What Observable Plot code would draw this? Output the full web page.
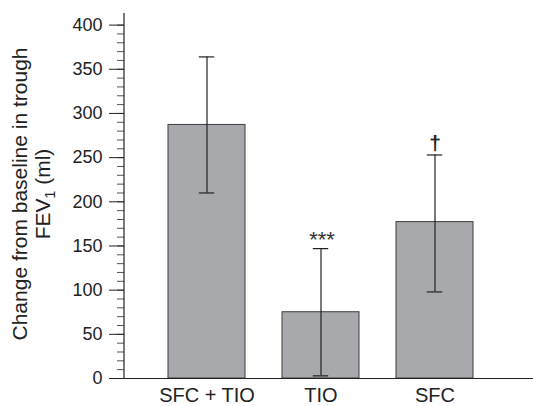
<!DOCTYPE html>
<html>
<head>
<meta charset="utf-8">
<script src="https://cdn.jsdelivr.net/npm/d3@7"></script>
<script src="https://cdn.jsdelivr.net/npm/@observablehq/plot@0.6"></script>
<style>
  body { margin: 0; background: #fff; }
  svg { font-family: "Liberation Sans", Arial, Helvetica, sans-serif; }
</style>
</head>
<body>
<div id="chart"></div>
<script>
const categories = ["SFC + TIO", "TIO", "SFC"];
const means = [287, 75, 177];
const errLow = [210, 3, 98];
const errHigh = [364, 147, 253];
const marks = ["", "***", "\u2020"];
const yTicks = [0, 50, 100, 150, 200, 250, 300, 350, 400];
const yMinorTicks = d3.range(0, 401, 10);

const data = categories.map((c, i) => ({cat: c, mean: means[i], lo: errLow[i], hi: errHigh[i], mark: marks[i]}));

const W = 533, H = 406, ML = 124, MT = 14, MB = 28;

const plot = Plot.plot({
  width: W,
  height: H,
  marginLeft: ML,
  marginRight: 0,
  marginTop: MT,
  marginBottom: MB,
  style: {fontFamily: '"Liberation Sans", Arial, Helvetica, sans-serif', background: "#fff", color: "#222"},
  x: {domain: categories, paddingInner: 0.325, paddingOuter: 0.441, align: 0.421, label: null},
  y: {domain: [0, 412], label: null},
  marks: [
    Plot.barY(data, {x: "cat", y: "mean", fill: "#a8a9ac", stroke: "#3c3c3c", strokeWidth: 1}),
    Plot.ruleX(data, {x: "cat", y1: "lo", y2: "hi", stroke: "#222", strokeWidth: 1.2}),
    Plot.tickY(data, {x: "cat", y: "lo", stroke: "#222", strokeWidth: 1.2, insetLeft: 30.8, insetRight: 30.8}),
    Plot.tickY(data, {x: "cat", y: "hi", stroke: "#222", strokeWidth: 1.2, insetLeft: 30.8, insetRight: 30.8}),
    Plot.text(data.filter(d => d.mark === "***"), {x: "cat", y: "hi", text: "mark", fontSize: 22, dy: -9, dx: 1, fill: "#333", style: "letter-spacing: 2px"}),
    Plot.text(data.filter(d => d.mark === "\u2020"), {x: "cat", y: "hi", text: "mark", fontSize: 21, dy: -12, fill: "#222", fontWeight: "bold"}),
    Plot.ruleY([0], {stroke: "#222", strokeWidth: 1.2}),
    Plot.axisY({ticks: yMinorTicks, tickSize: 7, text: null, stroke: "#555", strokeWidth: 1}),
    Plot.axisY({ticks: yTicks, tickSize: 15, tickPadding: 7, fontSize: 18, stroke: "#222", fill: "#222", label: null}),
    Plot.axisX({tickSize: 0, tickPadding: 9, fontSize: 20, fill: "#222", label: null})
  ]
});

const svg = d3.select(plot);
svg.append("line")
  .attr("x1", ML).attr("x2", ML)
  .attr("y1", MT - 1).attr("y2", H - MB)
  .attr("stroke", "#222").attr("stroke-width", 1.2);

const lab = svg.append("g")
  .attr("transform", `translate(27, 194) rotate(-90)`)
  .attr("text-anchor", "middle")
  .attr("fill", "#222")
  .attr("font-size", 21);
lab.append("text").attr("y", 0).text("Change from baseline in trough");
const l2 = lab.append("text").attr("y", 23);
l2.append("tspan").text("FEV");
l2.append("tspan").attr("font-size", 14).attr("dy", 5).text("1");
l2.append("tspan").attr("dy", -5).text(" (ml)");

document.getElementById("chart").appendChild(plot);
</script>
</body>
</html>
